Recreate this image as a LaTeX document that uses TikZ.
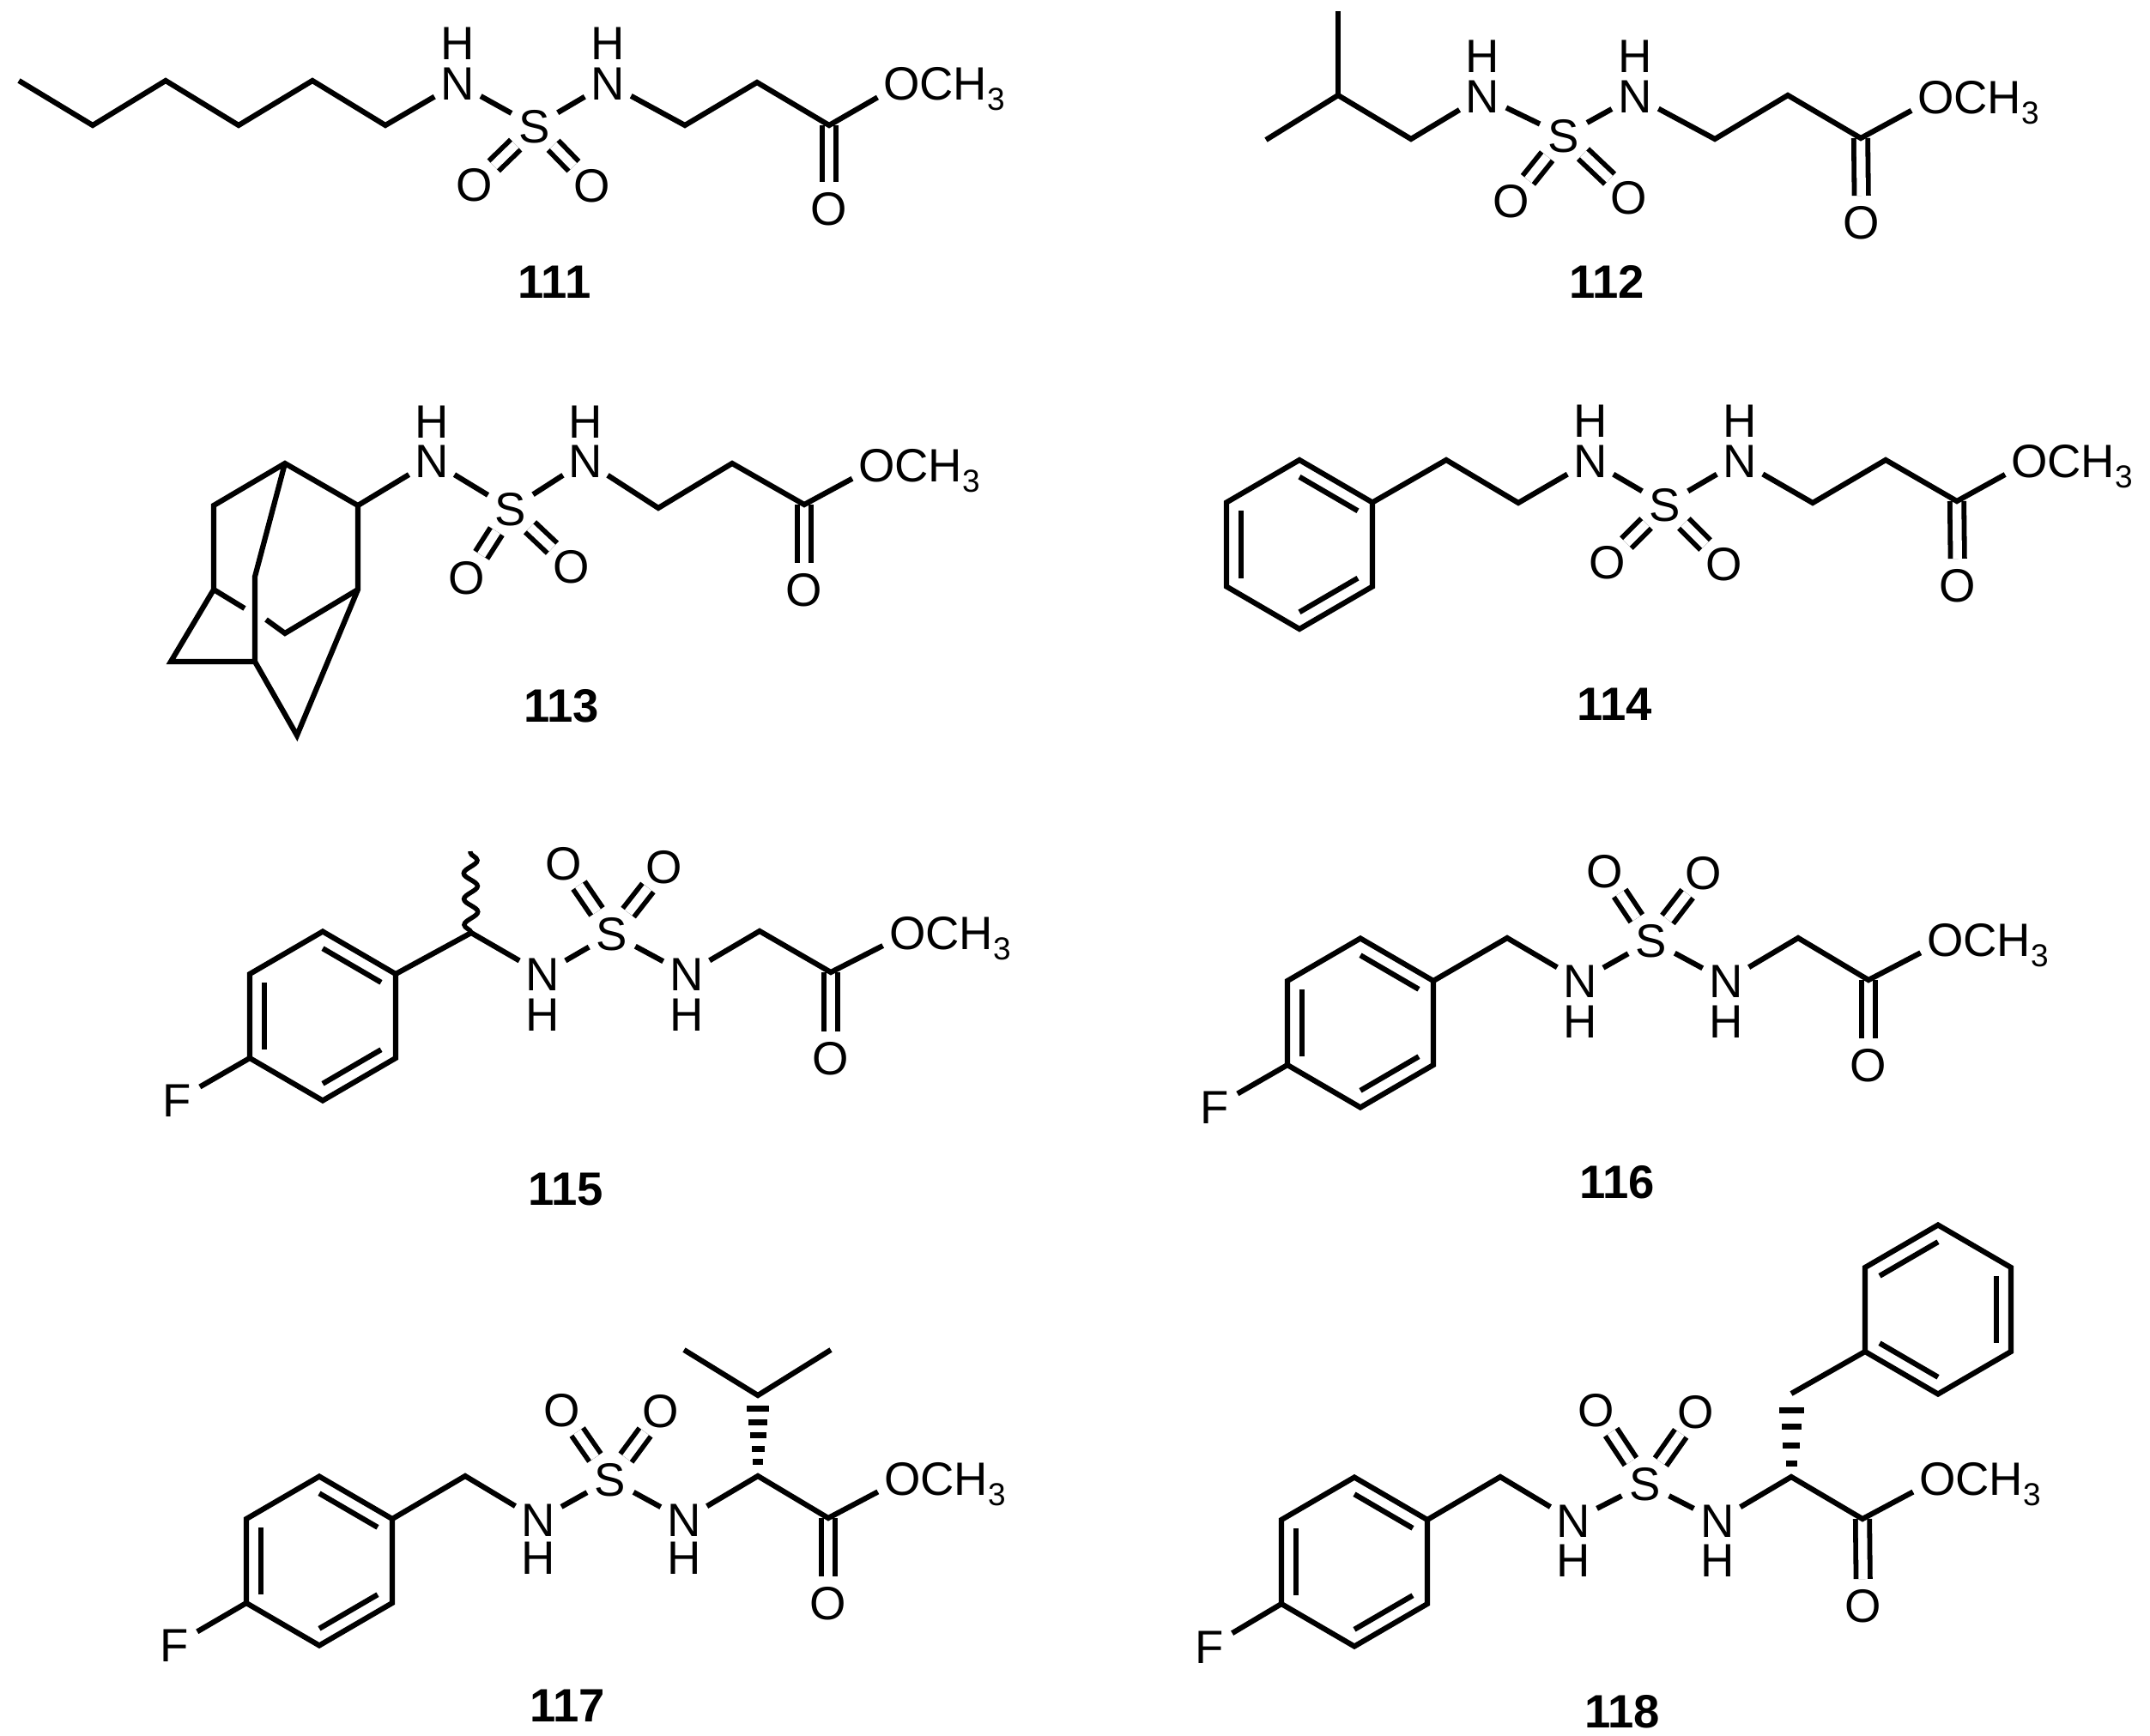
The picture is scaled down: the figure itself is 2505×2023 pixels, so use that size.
\documentclass[tikz,border=0pt]{standalone}
\usepackage{fontspec}
\setmainfont{Liberation Sans}
\usetikzlibrary{calc,decorations.pathmorphing}
\tikzset{
  bond/.style={line width=6.2pt,line join=miter,miter limit=10},
  dbond/.style={line width=5.8pt,double,double distance=10.5pt},
  wavy/.style={line width=5.4pt,decorate,decoration={snake,segment length=30pt,amplitude=8pt}},
  atom/.style={shape=circle,minimum size=62pt,inner sep=0pt,outer sep=0pt,
    font=\fontsize{54.5}{54.5}\selectfont,text height=39pt,text depth=0pt},
  methoxy/.style={anchor=west,inner sep=0pt,outer sep=0pt,
    font=\fontsize{54.5}{54.5}\selectfont,text height=39pt,text depth=0pt},
  cmpd/.style={inner sep=0pt,outer sep=0pt,
    font=\fontsize{54.5}{54.5}\selectfont\bfseries,text height=39pt,text depth=0pt},
  toO/.style={bond,shorten >=33pt}
}
\newcommand{\och}[3]{%
  \coordinate (#1) at (#2,#3);
  \node[methoxy] (#1t) at (#2-22,#3) {OCH\raisebox{-12pt}{\fontsize{37}{37}\selectfont 3}};
}
\newcommand{\hexring}[3]{%
  \coordinate (cen) at (#1,#2);
  \coordinate (v1) at (#1,#2-98.5);
  \coordinate (v2) at (#1+85,#2-49);
  \coordinate (v3) at (#1+85,#2+49);
  \coordinate (v4) at (#1,#2+98.5);
  \coordinate (v5) at (#1-85,#2+49);
  \coordinate (v6) at (#1-85,#2-49);
  \draw[bond] (v1)--(v2)--(v3)--(v4)--(v5)--(v6)--cycle;
  \foreach \a/\b in {#3} \draw[bond] ($(cen)!0.8!(v\a)$) -- ($(cen)!0.8!(v\b)$);
}
\begin{document}
\begin{tikzpicture}[x=1pt,y=-1pt]
\useasboundingbox (0,0) rectangle (2505,2023);

% 111
\begin{scope}[name prefix=a-]
\coordinate (c1) at (22,94); \coordinate (c2) at (108,146); \coordinate (c3) at (193,94);
\coordinate (c4) at (278,146); \coordinate (c5) at (364,94); \coordinate (c6) at (449,146);
\node[atom] (n1) at (533,97) {N}; \node[atom] (h1) at (533,50) {H};
\node[atom] (s) at (623,147) {S};
\node[atom] (n2) at (708,97) {N}; \node[atom] (h2) at (708,50) {H};
\coordinate (c7) at (798,146); \coordinate (c8) at (882,96); \coordinate (c9) at (966,146);
\node[atom] (o1) at (553,215) {O}; \node[atom] (o2) at (690,216) {O};
\node[atom] (o3) at (966,243) {O};
\och{om}{1051}{97}
\node[cmpd] (lab) at (646,328) {111};
\draw[dbond] (s)--(o1); \draw[dbond] (s)--(o2); \draw[dbond] (c9)--(o3);
\draw[bond] (c1)--(c2)--(c3)--(c4)--(c5)--(c6)--(n1);
\draw[bond] (n1)--(s); \draw[bond] (s)--(n2);
\draw[toO] (n2)--(c7)--(c8)--(c9)--(om);
\end{scope}

% 112
\begin{scope}[name prefix=b-]
\coordinate (m1) at (1559,13); \coordinate (ch) at (1559,111); \coordinate (m2) at (1475,163);
\coordinate (c1) at (1644,162);
\node[atom] (n1) at (1727,112) {N}; \node[atom] (h1) at (1727,65) {H};
\node[atom] (s) at (1822,158) {S};
\node[atom] (n2) at (1905,112) {N}; \node[atom] (h2) at (1905,65) {H};
\coordinate (c7) at (1998,162); \coordinate (c8) at (2083,111); \coordinate (c9) at (2168,161);
\node[atom] (o1) at (1761,234) {O}; \node[atom] (o2) at (1898,230) {O};
\node[atom] (o3) at (2169,259) {O};
\och{om}{2256}{113}
\node[cmpd] (lab) at (1872,328) {112};
\draw[dbond] (s)--(o1); \draw[dbond] (s)--(o2); \draw[dbond] (c9)--(o3);
\draw[bond] (m1)--(ch); \draw[bond] (m2)--(ch)--(c1)--(n1);
\draw[bond] (n1)--(s); \draw[bond] (s)--(n2);
\draw[toO] (n2)--(c7)--(c8)--(c9)--(om);
\end{scope}

% 113
\begin{scope}[name prefix=c-]
\coordinate (A) at (332,540); \coordinate (B) at (417,589); \coordinate (C) at (249,589);
\coordinate (D) at (417,687); \coordinate (E) at (249,687); \coordinate (F) at (297,672);
\coordinate (G) at (297,771); \coordinate (H) at (199,771); \coordinate (I) at (346,857);
\coordinate (J) at (332,738); \coordinate (st1) at (285,709); \coordinate (st2) at (310,722);
\node[atom] (n1) at (503,537) {N}; \node[atom] (h1) at (503,491) {H};
\node[atom] (s) at (595,593) {S};
\node[atom] (n2) at (682,537) {N}; \node[atom] (h2) at (682,491) {H};
\coordinate (c7) at (767,592); \coordinate (c8) at (853,540); \coordinate (c9) at (937,588);
\node[atom] (o1) at (544,673) {O}; \node[atom] (o2) at (666,660) {O};
\node[atom] (o3) at (937,687) {O};
\och{om}{1022}{542}
\node[cmpd] (lab) at (654,822) {113};
\draw[dbond] (s)--(o1); \draw[dbond] (s)--(o2); \draw[dbond] (c9)--(o3);
\draw[bond] (n1)--(B)--(A)--(C)--(E)--(H)--(G)--(F)--(A);
\draw[bond] (B)--(D)--(I)--(G);
\draw[bond] (E)--(st1); \draw[bond] (D)--(J)--(st2);
\draw[bond] (n1)--(s); \draw[bond] (s)--(n2);
\draw[toO] (n2)--(c7)--(c8)--(c9)--(om);
\end{scope}

% 114
\begin{scope}[name prefix=d-]
\hexring{1514}{634.5}{1/2,3/4,5/6}
\coordinate (c1) at (1685,536); \coordinate (c2) at (1769,586);
\node[atom] (n1) at (1853,537) {N}; \node[atom] (h1) at (1853,490) {H};
\node[atom] (s) at (1940,588) {S};
\node[atom] (n2) at (2027,537) {N}; \node[atom] (h2) at (2027,490) {H};
\coordinate (c7) at (2112,586); \coordinate (c8) at (2197,536); \coordinate (c9) at (2280,584);
\node[atom] (o1) at (1873,655) {O}; \node[atom] (o2) at (2009,657) {O};
\node[atom] (o3) at (2281,682) {O};
\och{om}{2365}{537}
\node[cmpd] (lab) at (1881,820) {114};
\draw[dbond] (s)--(o1); \draw[dbond] (s)--(o2); \draw[dbond] (c9)--(o3);
\draw[bond] (v2)--(c1)--(c2)--(n1);
\draw[bond] (n1)--(s); \draw[bond] (s)--(n2);
\draw[toO] (n2)--(c7)--(c8)--(c9)--(om);
\end{scope}

% 115
\begin{scope}[name prefix=e-]
\hexring{376}{1184}{1/2,3/4,5/6}
\node[atom] (f) at (206,1282) {F};
\coordinate (ch) at (549,1087); \coordinate (me) at (548,992);
\node[atom] (n1) at (632,1135) {N}; \node[atom] (h1) at (632,1182) {H};
\node[atom] (s) at (713,1088) {S};
\node[atom] (n2) at (800,1135) {N}; \node[atom] (h2) at (800,1182) {H};
\coordinate (c8) at (885,1085); \coordinate (c9) at (968,1133);
\node[atom] (o1) at (657,1006) {O}; \node[atom] (o2) at (774,1010) {O};
\node[atom] (o3) at (968,1233) {O};
\och{om}{1058}{1087}
\node[cmpd] (lab) at (659,1385) {115};
\draw[dbond] (s)--(o1); \draw[dbond] (s)--(o2); \draw[dbond] (c9)--(o3);
\draw[bond] (v5)--(f);
\draw[wavy] (ch)--(me);
\draw[bond] (v2)--(ch)--(n1);
\draw[bond] (n1)--(s); \draw[bond] (s)--(n2);
\draw[toO] (n2)--(c8)--(c9)--(om);
\end{scope}

% 116
\begin{scope}[name prefix=f-]
\hexring{1585}{1192}{1/2,3/4,5/6}
\node[atom] (f) at (1415,1290) {F};
\coordinate (ch) at (1756,1093);
\node[atom] (n1) at (1841,1143) {N}; \node[atom] (h1) at (1841,1190) {H};
\node[atom] (s) at (1924,1096) {S};
\node[atom] (n2) at (2011,1143) {N}; \node[atom] (h2) at (2011,1190) {H};
\coordinate (c8) at (2095,1093); \coordinate (c9) at (2177,1142);
\node[atom] (o1) at (1870,1015) {O}; \node[atom] (o2) at (1985,1017) {O};
\node[atom] (o3) at (2177,1241) {O};
\och{om}{2267}{1095}
\node[cmpd] (lab) at (1884,1377) {116};
\draw[dbond] (s)--(o1); \draw[dbond] (s)--(o2); \draw[dbond] (c9)--(o3);
\draw[bond] (v5)--(f);
\draw[bond] (v2)--(ch)--(n1);
\draw[bond] (n1)--(s); \draw[bond] (s)--(n2);
\draw[toO] (n2)--(c8)--(c9)--(om);
\end{scope}

% 117
\begin{scope}[name prefix=g-]
\hexring{372}{1819}{1/2,3/4,5/6}
\node[atom] (f) at (203,1917) {F};
\coordinate (ch) at (542,1720);
\node[atom] (n1) at (627,1771) {N}; \node[atom] (h1) at (627,1815) {H};
\node[atom] (s) at (711,1724) {S};
\node[atom] (n2) at (797,1771) {N}; \node[atom] (h2) at (797,1815) {H};
\coordinate (c8) at (883,1720); \coordinate (c9) at (965,1769);
\coordinate (ip) at (883,1626); \coordinate (il) at (797,1573); \coordinate (ir) at (968,1573);
\node[atom] (o1) at (655,1643) {O}; \node[atom] (o2) at (770,1644) {O};
\node[atom] (o3) at (965,1868) {O};
\och{om}{1052}{1723}
\node[cmpd] (lab) at (661,1987) {117};
\draw[dbond] (s)--(o1); \draw[dbond] (s)--(o2); \draw[dbond] (c9)--(o3);
\draw[bond] (v5)--(f);
\draw[bond] (v2)--(ch)--(n1);
\draw[bond] (n1)--(s); \draw[bond] (s)--(n2);
\draw[toO] (n2)--(c8)--(c9)--(om);
\draw[bond] (il)--(ip)--(ir);
\foreach \t/\w in {0.18/12,0.34/15,0.51/19,0.67/22,0.83/26}
  \fill ($(c8)!\t!(ip)$) ++(-\w/2,-3.5) rectangle ++(\w,7);
\end{scope}

% 118
\begin{scope}[name prefix=h-]
\hexring{1578}{1820}{1/2,3/4,5/6}
\node[atom] (f) at (1409,1919) {F};
\coordinate (ch) at (1748,1721);
\node[atom] (n1) at (1833,1772) {N}; \node[atom] (h1) at (1833,1818) {H};
\node[atom] (s) at (1917,1729) {S};
\node[atom] (n2) at (2001,1772) {N}; \node[atom] (h2) at (2001,1818) {H};
\coordinate (c8) at (2087,1721); \coordinate (c9) at (2170,1770);
\node[atom] (o1) at (1860,1643) {O}; \node[atom] (o2) at (1976,1645) {O};
\node[atom] (o3) at (2171,1871) {O};
\och{om}{2258}{1723}
\node[cmpd] (lab) at (1890,1994) {118};
\draw[dbond] (s)--(o1); \draw[dbond] (s)--(o2); \draw[dbond] (c9)--(o3);
\draw[bond] (v5)--(f);
\draw[bond] (v2)--(ch)--(n1);
\draw[bond] (n1)--(s); \draw[bond] (s)--(n2);
\draw[toO] (n2)--(c8)--(c9)--(om);
\coordinate (bn) at (2087,1624);
\foreach \t/\w in {0.165/13,0.38/20,0.6/23,0.8/29}
  \fill ($(c8)!\t!(bn)$) ++(-\w/2,-3.5) rectangle ++(\w,7);
\end{scope}
\begin{scope}[name prefix=i-]
\hexring{2258}{1526}{6/1,2/3,4/5}
\draw[bond] (h-bn)--(v5);
\end{scope}
\end{tikzpicture}
\end{document}
